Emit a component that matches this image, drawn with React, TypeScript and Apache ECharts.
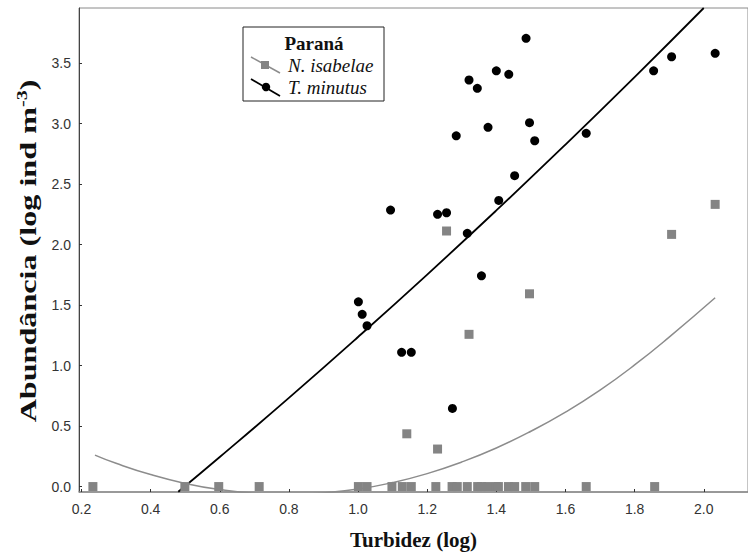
import React, { useEffect, useRef } from "react";
import * as echarts from "echarts";

// Axis tick values
const xTicks = [0.2, 0.4, 0.6, 0.8, 1.0, 1.2, 1.4, 1.6, 1.8, 2.0];
const yTicks = [0, 0.5, 1.0, 1.5, 2.0, 2.5, 3.0, 3.5];

// T. minutus observations (Turbidez log, Abundância log)
const tMinutusX = [1.001, 1.012, 1.026, 1.094, 1.126, 1.154, 1.23, 1.256, 1.273, 1.284, 1.316, 1.321, 1.345, 1.357, 1.376, 1.4, 1.407, 1.436, 1.453, 1.486, 1.496, 1.511, 1.66, 1.855, 1.907, 2.033];
const tMinutusY = [1.527, 1.423, 1.329, 2.285, 1.109, 1.109, 2.25, 2.263, 0.646, 2.899, 2.093, 3.36, 3.291, 1.742, 2.969, 3.436, 2.365, 3.407, 2.569, 3.704, 3.007, 2.858, 2.919, 3.436, 3.552, 3.58];

// N. isabelae observations
const nIsabelaeX = [0.233, 0.499, 0.597, 0.714, 1.001, 1.026, 1.098, 1.128, 1.154, 1.225, 1.272, 1.287, 1.316, 1.346, 1.357, 1.375, 1.4, 1.406, 1.435, 1.453, 1.485, 1.511, 1.66, 1.858, 1.141, 1.23, 1.256, 1.321, 1.496, 1.907, 2.033];
const nIsabelaeY = [0, 0, 0, 0, 0, 0, 0, 0, 0, 0, 0, 0, 0, 0, 0, 0, 0, 0, 0, 0, 0, 0, 0, 0, 0.436, 0.31, 2.112, 1.258, 1.593, 2.084, 2.332];

// Fitted curves
const tMinutusFitX = [0.48, 0.6, 0.8, 1.0, 1.2, 1.4, 1.6, 1.8, 2.0];
const tMinutusFitY = [-0.043, 0.244, 0.733, 1.236, 1.752, 2.282, 2.826, 3.384, 3.955];
const nIsabelaeFitX = [0.239, 0.3, 0.4, 0.5, 0.6, 0.7, 0.8, 0.9, 1.0, 1.1, 1.2, 1.3, 1.4, 1.5, 1.6, 1.7, 1.8, 1.9, 2.033];
const nIsabelaeFitY = [0.26, 0.192, 0.099, 0.026, -0.025, -0.056, -0.065, -0.053, -0.021, 0.033, 0.107, 0.203, 0.319, 0.457, 0.615, 0.797, 1.005, 1.235, 1.56];

// Texts
const xTitle = "Turbidez (log)";
const yTitleMain = "Abundância (log ind m";
const yTitleSup = "-3";
const legendTitle = "Paraná";
const legendNames = ["N. isabelae", "T. minutus"];

const zip = (xs: number[], ys: number[]) => xs.map((x, i) => [x, ys[i]]);

export default function App() {
  const ref = useRef<HTMLDivElement>(null);
  useEffect(() => {
    if (!ref.current) return;
    const chart = echarts.init(ref.current, null, { renderer: "svg" });
    const serif = "Liberation Serif";
    const sans = "Liberation Sans";
    chart.setOption({
      animation: false,
      backgroundColor: "#ffffff",
      grid: {
        left: 79,
        top: 8,
        right: -2,
        bottom: 65,
        show: true,
        borderColor: "#8a8a8a",
        borderWidth: 1,
        backgroundColor: "transparent",
      },
      xAxis: {
        type: "value",
        min: 0.1928,
        max: 2.128,
        axisLine: { show: true, onZero: false, lineStyle: { color: "#8a8a8a", width: 1.5 } },
        axisTick: { show: true, inside: true, length: 3, customValues: xTicks, lineStyle: { color: "#333" } },
        axisLabel: {
          customValues: xTicks,
          formatter: (v: number) => v.toFixed(1),
          color: "#333",
          fontSize: 14,
          fontFamily: sans,
          margin: 10,
        },
        splitLine: { show: false },
        name: xTitle,
        nameLocation: "middle",
        nameGap: 37,
        nameTextStyle: { fontFamily: serif, fontWeight: "bold", fontSize: 21, color: "#111" },
      },
      yAxis: {
        type: "value",
        min: -0.045,
        max: 3.955,
        axisLine: { show: true, onZero: false, lineStyle: { color: "#444", width: 1 } },
        axisTick: { show: true, inside: true, length: 3, customValues: yTicks, lineStyle: { color: "#333" } },
        axisLabel: {
          customValues: yTicks,
          formatter: (v: number) => v.toFixed(1),
          color: "#333",
          fontSize: 14,
          fontFamily: sans,
          margin: 8,
        },
        splitLine: { show: false },
      },
      series: [
        {
          name: "T. minutus fit",
          type: "line",
          data: zip(tMinutusFitX, tMinutusFitY),
          showSymbol: false,
          smooth: true,
          clip: true,
          lineStyle: { color: "#000", width: 1.8 },
          z: 2,
        },
        {
          name: "N. isabelae fit",
          type: "line",
          data: zip(nIsabelaeFitX, nIsabelaeFitY),
          showSymbol: false,
          smooth: true,
          clip: true,
          lineStyle: { color: "#8c8c8c", width: 1.5 },
          z: 2,
        },
        {
          name: "T. minutus",
          type: "scatter",
          data: zip(tMinutusX, tMinutusY),
          symbol: "circle",
          symbolSize: 9,
          itemStyle: { color: "#000", opacity: 1 },
          z: 3,
        },
        {
          name: "N. isabelae",
          type: "scatter",
          data: zip(nIsabelaeX, nIsabelaeY),
          symbol: "rect",
          symbolSize: 9,
          itemStyle: { color: "#848484", opacity: 1 },
          z: 4,
        },
      ],
      graphic: [
        {
          type: "text",
          z: 50,
          x: 28,
          y: 251,
          rotation: Math.PI / 2,
          scaleX: 1.34,
          scaleY: 1,
          style: {
            text: "{a|" + yTitleMain + "}{s|" + yTitleSup + "}{a|)}",
            align: "center",
            textAlign: "center",
            verticalAlign: "middle",
            textVerticalAlign: "middle",
            rich: {
              a: { fontFamily: serif, fontWeight: "bold", fontSize: 24, lineHeight: 28, fill: "#111", color: "#111" },
              s: { fontFamily: serif, fontWeight: "bold", fontSize: 15, verticalAlign: "top", fill: "#111", color: "#111" },
            },
          },
        },
        {
          type: "rect",
          z: 100,
          shape: { x: 243, y: 27, width: 141, height: 74 },
          style: { fill: "#fff", stroke: "#222", lineWidth: 1 },
        },
        {
          type: "text",
          z: 101,
          x: 314,
          y: 43,
          style: {
            text: legendTitle,
            fontFamily: serif,
            fontWeight: "bold",
            fontSize: 19,
            fill: "#111",
            align: "center",
            textAlign: "center",
            verticalAlign: "middle",
            textVerticalAlign: "middle",
          },
        },
        {
          type: "line",
          z: 101,
          shape: { x1: 251, y1: 57, x2: 280, y2: 73 },
          style: { stroke: "#8c8c8c", lineWidth: 1.5 },
        },
        {
          type: "rect",
          z: 102,
          shape: { x: 261, y: 61, width: 8, height: 8 },
          style: { fill: "#848484" },
        },
        {
          type: "text",
          z: 101,
          x: 288,
          y: 65,
          style: {
            text: legendNames[0],
            fontFamily: serif,
            fontStyle: "italic",
            fontSize: 19,
            fill: "#111",
            align: "left",
            textAlign: "left",
            verticalAlign: "middle",
            textVerticalAlign: "middle",
          },
        },
        {
          type: "line",
          z: 101,
          shape: { x1: 251, y1: 79, x2: 280, y2: 96 },
          style: { stroke: "#000", lineWidth: 1.8 },
        },
        {
          type: "circle",
          z: 102,
          shape: { cx: 266, cy: 87, r: 4.2 },
          style: { fill: "#000" },
        },
        {
          type: "text",
          z: 101,
          x: 288,
          y: 87,
          style: {
            text: legendNames[1],
            fontFamily: serif,
            fontStyle: "italic",
            fontSize: 19,
            fill: "#111",
            align: "left",
            textAlign: "left",
            verticalAlign: "middle",
            textVerticalAlign: "middle",
          },
        },
      ],
    });
    return () => chart.dispose();
  }, []);
  return (
    <div
      ref={ref}
      style={{ position: "fixed", left: 0, top: 0, width: 748, height: 557, background: "#fff" }}
    />
  );
}
